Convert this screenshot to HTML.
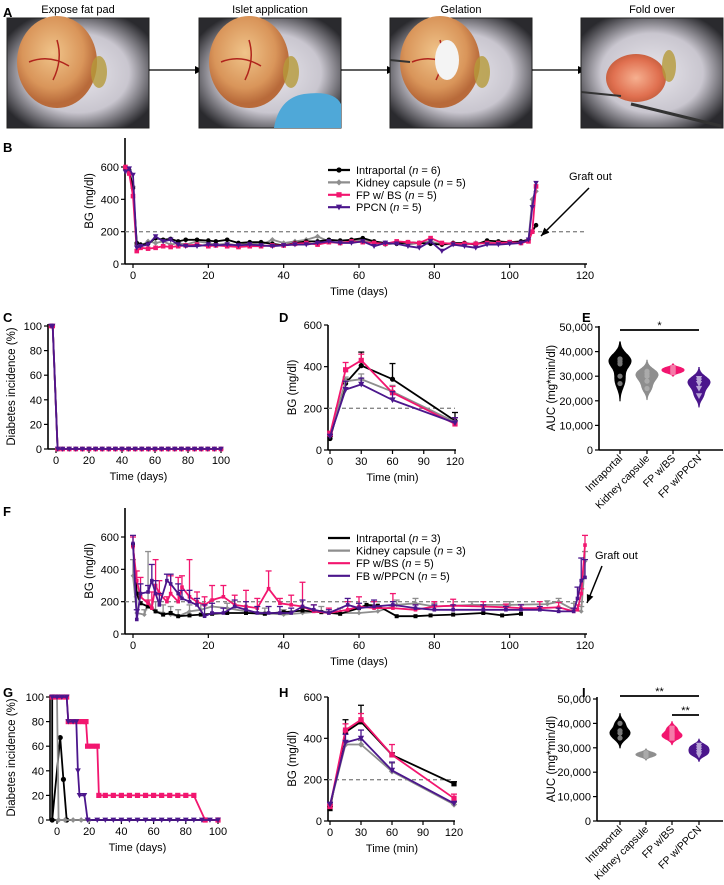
<!DOCTYPE html>
<html><head><meta charset="utf-8">
<style>
html,body{margin:0;padding:0;background:#fff;}
svg{display:block;font-family:"Liberation Sans Narrow","Liberation Sans",sans-serif;}
</style></head>
<body>
<svg id="fig" width="724" height="885" viewBox="0 0 724 885" xmlns="http://www.w3.org/2000/svg">
<defs>
<radialGradient id="fur" cx="50%" cy="50%" r="60%"><stop offset="0" stop-color="#e8e6ec"/><stop offset="0.6" stop-color="#c9c6cf"/><stop offset="1" stop-color="#2a2a2e"/></radialGradient>
<radialGradient id="fat" cx="45%" cy="40%" r="55%"><stop offset="0" stop-color="#f0c48a"/><stop offset="0.7" stop-color="#d9955a"/><stop offset="1" stop-color="#b86a3a"/></radialGradient>
<radialGradient id="fat2" cx="50%" cy="50%" r="55%"><stop offset="0" stop-color="#f6b090"/><stop offset="0.7" stop-color="#e07050"/><stop offset="1" stop-color="#c05a3a"/></radialGradient>
</defs>
</svg>
<script>
// ===== Chart data =====
// Panel B
const daysB = [-2,-1,0,1,2,4,6,8,10,12,14,17,20,22,25,28,31,34,37,40,43,46,49,52,55,58,61,64,67,70,73,76,79,82,85,88,91,94,97,100,103,105,106,107];
const bIntraportal = [590,580,470,130,120,125,160,150,155,140,150,150,145,140,150,130,135,135,125,115,130,140,140,150,145,150,160,140,130,125,135,130,125,120,130,130,120,145,140,135,140,150,200,240];
const bKidney = [580,560,480,120,110,140,130,140,120,130,120,140,130,120,125,115,130,120,150,130,140,150,170,140,130,140,150,130,120,130,120,130,140,120,125,120,130,130,125,130,140,150,400,450];
const bFPBS = [600,560,420,80,100,95,100,110,105,110,115,120,110,115,110,105,110,110,115,115,125,130,120,135,130,140,135,130,125,140,135,130,160,130,125,125,125,130,130,135,130,140,200,480];
const bPPCN = [570,590,550,100,110,120,170,140,150,120,110,110,120,115,120,115,120,115,110,115,120,120,130,140,130,130,140,110,130,125,110,100,140,80,120,110,100,120,120,125,130,150,350,500];
// Panel C
const daysC = [-3,-2,1,4,8,12,16,20,24,28,32,36,40,44,48,52,56,60,64,68,72,76,80,84,88,92,96,100];
const cAll = [100,100,0,0,0,0,0,0,0,0,0,0,0,0,0,0,0,0,0,0,0,0,0,0,0,0,0,0];
const cPPCN = [100,100,0,0,0,0,0,0,0,0,0,0,0,0,0,0,0,0,0,0,0,0,0,0,0,0,0,0];
// Panel D
const ipttTimes = [0,15,30,60,120];
const dIntraportal = [55,320,405,340,140];
const dKidney = [70,330,340,280,135];
const dFPBS = [75,385,430,275,125];
const dPPCN = [65,290,315,240,130];
const dErrIntraportal = [10,20,65,75,40];
const dErrKidney = [10,20,25,30,20];
const dErrFPBS = [15,35,30,30,30];
const dErrPPCN = [10,40,30,40,25];
// Panel E
const aucGroups = ["Intraportal","Kidney capsule","FP w/BS","FP w/PPCN"];
const eIntraportal = [37000,37000,27000,35000,30000,36000];
const eKidney = [30000,28000,32000,25000,31000];
const eFPBS = [32000,33000,32500,31500,33500];
const ePPCN = [28000,22000,27000,29000,25000];
// Panel F
const fDaysIntraportal = [0,1,2,4,6,8,10,12,15,18,21,25,30,35,40,45,50,55,60,62,65,70,75,79,85,93,98,103];
const fIntraportal = [550,250,190,170,140,120,130,110,115,120,125,130,130,125,135,145,135,125,160,180,175,110,110,115,120,130,115,125];
const fDaysKidney = [0,1,3,4,6,8,10,12,15,18,21,25,30,35,40,45,50,55,60,65,70,75,80,90,100,110,113,117,119,120];
const fKidney = [360,130,120,200,140,130,120,110,140,150,170,160,140,130,120,130,140,130,130,140,180,190,170,180,180,185,200,150,140,450];
const fErrKidney = [100,100,30,310,60,50,50,40,40,40,40,30,30,30,30,30,30,30,30,30,30,30,20,20,20,20,20,40,30,60];
const fDaysPink = [0,1,2,4,5,6,7,9,10,12,13,15,17,19,21,24,27,30,33,36,39,42,45,48,52,57,60,64,69,75,80,85,93,99,103,108,113,117,118,119,120];
const fFPBS = [540,330,230,190,160,300,250,200,250,200,290,230,200,180,210,230,180,170,160,280,190,180,170,140,130,150,170,160,160,150,170,175,170,165,160,160,165,140,150,250,550];
const fErrFPBS = [60,60,120,20,100,160,80,30,110,150,70,230,60,50,90,70,60,100,60,110,30,60,150,40,30,50,60,40,90,30,30,40,30,20,20,40,30,20,30,30,60];
const fPPCN = [560,90,250,260,330,250,180,330,310,250,220,200,180,110,130,130,170,150,130,130,130,130,170,150,130,180,160,170,180,160,150,150,150,150,150,150,140,140,220,330,350];
const fErrPPCN = [50,60,60,40,100,80,70,40,60,60,50,70,40,70,60,30,40,50,40,40,40,30,40,30,20,40,30,40,20,20,30,30,30,20,30,20,20,20,70,140,110];
// Panel G
const gDaysIntraportal = [-3,-3,2,4,6,100];
const gIntraportal = [100,0,67,33,0,0];
const gDaysKidney = [-2,0,1,5,10,15,20];
const gKidney = [100,100,0,0,0,0,0];
const gDaysFPBS = [-3,0,3,6,7,10,13,16,18,19,22,25,26,30,35,40,45,50,55,60,65,70,75,80,85,92,100];
const gFPBS = [100,100,100,100,80,80,80,80,80,60,60,60,20,20,20,20,20,20,20,20,20,20,20,20,20,0,0];
const gDaysPPCN = [-3,0,3,6,7,10,12,13,14,17,19,25,30,35,40,45,50,55,60,65,70,75,80,85,90,95,100];
const gPPCN = [100,100,100,100,80,80,80,40,20,20,0,0,0,0,0,0,0,0,0,0,0,0,0,0,0,0,0];
// Panel H
const hIntraportal = [60,430,480,320,180];
const hKidney = [75,370,370,240,80];
const hFPBS = [70,440,490,320,110];
const hPPCN = [80,380,400,245,85];
const hErrIntraportal = [10,60,80,10,10];
const hErrKidney = [10,20,20,40,10];
const hErrFPBS = [10,30,30,50,20];
const hErrPPCN = [10,40,40,40,10];
// Panel I
const iIntraportal = [40000,36000,34000,37000];
const iKidney = [27000,28000,27500,26500];
const iFPBS = [38000,35000,36000,34000];
const iPPCN = [30000,28000,27000,29000,31000];

// ===== Drawing =====
const NS = "http://www.w3.org/2000/svg";
const svg = document.getElementById('fig');
const BLACK="#000", GRAY="#8e8e8e", PINK="#f2166f", PURPLE="#4b168c";
function mk(tag, attrs, parent){
  const e=document.createElementNS(NS,tag);
  for(const k in attrs) e.setAttribute(k,attrs[k]);
  (parent||svg).appendChild(e);
  return e;
}
function txt(x,y,s,size,anchor,parent,extra){
  const t=mk('text',Object.assign({x:x,y:y,'font-size':size,'text-anchor':anchor||'middle','fill':'#000'},extra||{}),parent);
  t.textContent=s;
  return t;
}
function lin(d0,d1,p0,p1){return v=>p0+(v-d0)/(d1-d0)*(p1-p0);}

// Panel A photos
const photos=[["Expose fat pad",7,"fat"],["Islet application",199,"fat"],["Gelation",390,"fat"],["Fold over",581,"fat2"]];
const gA=mk('g',{});


const la=txt(3,17,"A",13,'start',gA,{'font-weight':'bold'});


photos.forEach((p,i)=>{
  const x=p[1];
  const g=mk('g',{},gA);
  
  
  mk('rect',{x:x,y:18,width:142,height:110,fill:'url(#fur)'},g);
  mk('rect',{x:x,y:18,width:142,height:110,fill:'none',stroke:'#222','stroke-width':1},g);
  if(i<3){
    mk('ellipse',{cx:x+50,cy:62,rx:40,ry:46,fill:'url(#fat)'},g);
    mk('path',{d:`M${x+22} ${62} q20 -8 40 4 M${x+50} ${40} q6 20 -4 40`,stroke:'#b0241c','stroke-width':1.5,fill:'none'},g);
    mk('ellipse',{cx:x+92,cy:72,rx:8,ry:16,fill:'#b59a3a',opacity:0.8},g);
  } else {
    mk('ellipse',{cx:x+55,cy:78,rx:30,ry:24,fill:'url(#fat2)'},g);
    mk('ellipse',{cx:x+88,cy:66,rx:7,ry:16,fill:'#b59a3a',opacity:0.8},g);
    mk('line',{x1:x,y1:92,x2:x+40,y2:96,stroke:'#333','stroke-width':2},g);
    mk('line',{x1:x+50,y1:104,x2:x+140,y2:126,stroke:'#333','stroke-width':3},g);
  }
  if(i===1){ mk('path',{d:`M${x+75} ${128} q5 -30 30 -34 q30 -4 37 10 v24 z`,fill:'#4fa8d8'},g); }
  if(i===2){ mk('ellipse',{cx:x+57,cy:60,rx:12,ry:20,fill:'#f4f4f4'},g); mk('line',{x1:x,y1:60,x2:x+20,y2:62,stroke:'#333','stroke-width':2},g);}
  const t=txt(x+71,13,p[0],11,'middle',g);
  
  
  if(i<3){
    const a=mk('g',{},gA);
    
    
    mk('line',{x1:x+142,y1:70,x2:x+188,y2:70,stroke:'#000','stroke-width':1.2},a);
    mk('path',{d:`M${x+196} 70 l-8 -4 v8 z`,fill:'#000'},a);
  }
});

// Generic axes
function axes(c){
  const g=mk('g',{});
  
  
  const lb=txt(c.labelX,c.labelY,c.label,13,'start',g,{'font-weight':'bold'});
  
  
  const X=lin(c.xmin,c.xmax,c.px0,c.px1), Y=lin(c.ymin,c.ymax,c.py0,c.py1);
  const ya=mk('line',{x1:c.axX,y1:c.py0,x2:c.axX,y2:c.yTop,stroke:'#000','stroke-width':1.6},g);
  
  
  const xa=mk('line',{x1:c.axX,y1:c.py0,x2:c.axRight,y2:c.py0,stroke:'#000','stroke-width':1.6},g);
  
  
  c.yticks.forEach((v,i)=>{
    mk('line',{x1:c.axX-4,y1:Y(v),x2:c.axX,y2:Y(v),stroke:'#000','stroke-width':1.2},g);
    const t=txt(c.axX-6,Y(v)+4,c.ytickLabels[i],11,'end',g);
    
    
  });
  if(c.xticks) c.xticks.forEach((v,i)=>{
    mk('line',{x1:X(v),y1:c.py0,x2:X(v),y2:c.py0+4,stroke:'#000','stroke-width':1.2},g);
    const t=txt(X(v),c.py0+15,String(v),11,'middle',g);
    
    
  });
  if(c.xtitle){
    const t=txt((c.px0+c.px1)/2,c.py0+31,c.xtitle,11,'middle',g);
    
    
  }
  const ytx=c.ytitleX, yty=(c.py0+c.yTop)/2;
  const yt=txt(ytx,yty,c.ytitle,11.5,'middle',g,{transform:`rotate(-90 ${ytx} ${yty})`});
  
  
  if(c.dashY!==undefined){
    const d=mk('line',{x1:c.axX,y1:Y(c.dashY),x2:c.dashX2,y2:Y(c.dashY),stroke:'#888','stroke-width':1.3,'stroke-dasharray':'4 3'},g);
    
    
  }
  return {g,X,Y};
}
function marker(g,shape,x,y,color,s){
  s=s||2.6;
  if(shape==='circle') return mk('circle',{cx:x,cy:y,r:s,fill:color},g);
  if(shape==='diamond') return mk('path',{d:`M${x} ${y-s*1.2} L${x+s*1.2} ${y} L${x} ${y+s*1.2} L${x-s*1.2} ${y} Z`,fill:color},g);
  if(shape==='square') return mk('rect',{x:x-s,y:y-s,width:2*s,height:2*s,fill:color},g);
  return mk('path',{d:`M${x-s*1.2} ${y-s} L${x+s*1.2} ${y-s} L${x} ${y+s*1.2} Z`,fill:color},g);
}
function series(ax,name,xs,ys,errs,color,shape,opts){
  opts=opts||{};
  const g=mk('g',{},ax.g);
  
  
  const pts=[];
  xs.forEach((x,i)=>{ if(ys[i]!==null) pts.push([ax.X(x),ax.Y(ys[i]),i]); });
  if(errs) pts.forEach(p=>{
    const e=errs[p[2]]; if(!e) return;
    const yt=ax.Y(ys[p[2]]+e);
    mk('line',{x1:p[0],y1:p[1],x2:p[0],y2:yt,stroke:color,'stroke-width':1.3},g);
    mk('line',{x1:p[0]-3,y1:yt,x2:p[0]+3,y2:yt,stroke:color,'stroke-width':1.3},g);
  });
  const pl=mk('polyline',{points:pts.map(p=>p[0].toFixed(1)+','+p[1].toFixed(1)).join(' '),fill:'none',stroke:color,'stroke-width':opts.w||1.8,'stroke-linejoin':'round'},g);
  
  
  if(!opts.noMarkers) pts.forEach(p=>{
    const m=marker(g,shape,p[0],p[1],color,opts.ms);
    
    
  });
}
function legend(parent,x,y0,dy,items){
  const g=mk('g',{},parent);
  
  
  items.forEach((it,i)=>{
    const y=y0+i*dy;
    const e=mk('g',{},g);
    
    
    mk('line',{x1:x,y1:y,x2:x+22,y2:y,stroke:it[1],'stroke-width':2.2},e);
    if(it[2]) marker(e,it[2],x+11,y,it[1],2.6);
    const t=mk('text',{x:x+28,y:y+4,'font-size':11},e);
    t.innerHTML=it[0];
  });
}
function grafOut(parent,tx,ty,x1,y1,x2,y2){
  const g=mk('g',{},parent);
  
  
  txt(tx,ty,"Graft out",11,'start',g);
  mk('line',{x1:x1,y1:y1,x2:x2,y2:y2,stroke:'#000','stroke-width':1.5},g);
  const ang=Math.atan2(y2-y1,x2-x1), L=9;
  const a1=ang+Math.PI-0.4, a2=ang+Math.PI+0.4;
  mk('path',{d:`M${x2} ${y2} L${x2+L*Math.cos(a1)} ${y2+L*Math.sin(a1)} L${x2+L*Math.cos(a2)} ${y2+L*Math.sin(a2)} Z`,fill:'#000'},g);
}

// Panel B
const B=axes({name:'panel-b-chart',label:'B',labelX:3,labelY:152,xmin:0,xmax:120,px0:133,px1:585,ymin:0,ymax:600,py0:264,py1:167,axX:125,axRight:587,yTop:138,
  yticks:[0,200,400,600],ytickLabels:["0","200","400","600"],xticks:[0,20,40,60,80,100,120],xtitle:"Time (days)",ytitle:"BG (mg/dl)",ytitleX:93,dashY:200,dashX2:585});
series(B,'b-kidney-capsule',daysB,bKidney,null,GRAY,'diamond',{ms:2.3});
series(B,'b-intraportal',daysB,bIntraportal,null,BLACK,'circle',{ms:2.3});
series(B,'b-fp-bs',daysB,bFPBS,null,PINK,'square',{ms:2.3});
series(B,'b-ppcn',daysB,bPPCN,null,PURPLE,'triangle',{ms:2.3});
legend(B.g,328,170,12.4,[["Intraportal (<tspan font-style='italic'>n</tspan> = 6)",BLACK,'circle'],["Kidney capsule (<tspan font-style='italic'>n</tspan> = 5)",GRAY,'diamond'],["FP w/ BS (<tspan font-style='italic'>n</tspan> = 5)",PINK,'square'],["PPCN (<tspan font-style='italic'>n</tspan> = 5)",PURPLE,'triangle']]);
grafOut(B.g,569,180,589,188,541,236);

// Panel C
const C=axes({name:'panel-c-chart',label:'C',labelX:3,labelY:322,xmin:0,xmax:100,px0:56,px1:221,ymin:0,ymax:100,py0:449,py1:326,axX:48,axRight:222,yTop:324,
  yticks:[0,20,40,60,80,100],ytickLabels:["0","20","40","60","80","100"],xticks:[0,20,40,60,80,100],xtitle:"Time (days)",ytitle:"Diabetes incidence (%)",ytitleX:15});
series(C,'c-intraportal',daysC,cAll,null,BLACK,'circle',{ms:2.3});
series(C,'c-kidney',daysC,cAll,null,GRAY,'diamond',{ms:2.3});
series(C,'c-fp-bs',daysC,cAll,null,PINK,'square',{ms:2.3});
series(C,'c-ppcn',daysC,cPPCN,null,PURPLE,'triangle',{ms:2.3});

// Panel D
const D=axes({name:'panel-d-chart',label:'D',labelX:279,labelY:322,xmin:0,xmax:120,px0:330,px1:455,ymin:0,ymax:600,py0:450,py1:325,axX:328,axRight:456,yTop:325,
  yticks:[0,200,400,600],ytickLabels:["0","200","400","600"],xticks:[0,30,60,90,120],xtitle:"Time (min)",ytitle:"BG (mg/dl)",ytitleX:296,dashY:200,dashX2:455});
series(D,'d-intraportal',ipttTimes,dIntraportal,dErrIntraportal,BLACK,'circle');
series(D,'d-kidney',ipttTimes,dKidney,dErrKidney,GRAY,'diamond');
series(D,'d-fp-bs',ipttTimes,dFPBS,dErrFPBS,PINK,'square');
series(D,'d-ppcn',ipttTimes,dPPCN,dErrPPCN,PURPLE,'triangle');

// Violin panels
function violinPanel(c,groups,colors,shapes,cats){
  const A=axes(c);
  const X=i=>c.catX[i];
  cats.forEach((s,i)=>{
    mk('line',{x1:X(i),y1:c.py0,x2:X(i),y2:c.py0+4,stroke:'#000','stroke-width':1.2},A.g);
    const tx=X(i)+3, ty=c.py0+9;
    const t=txt(tx,ty,s,10.5,'end',A.g,{transform:`rotate(-45 ${tx} ${ty})`});
    
    
  });
  groups.forEach((vals,gi)=>{
    const g=mk('g',{},A.g);
    
    
    const mn=Math.min(...vals), mx=Math.max(...vals);
    const sd=Math.sqrt(vals.reduce((a,v)=>a+(v-vals.reduce((p,q)=>p+q,0)/vals.length)**2,0)/vals.length);
    const h=Math.max(sd*0.7,600);
    const lo=mn-2.6*h, hi=mx+2.6*h;
    const N=60, dens=[];
    for(let k=0;k<=N;k++){const y=lo+(hi-lo)*k/N; let s=0; vals.forEach(v=>s+=Math.exp(-0.5*((y-v)/h)**2)); dens.push([y,s]);}
    const dm=Math.max(...dens.map(d=>d[1]));
    const W=c.vw;
    let d='M'+X(gi)+' '+A.Y(lo);
    dens.forEach(p=>d+=' L'+(X(gi)+W*p[1]/dm).toFixed(1)+' '+A.Y(p[0]).toFixed(1));
    for(let k=dens.length-1;k>=0;k--){const p=dens[k]; d+=' L'+(X(gi)-W*p[1]/dm).toFixed(1)+' '+A.Y(p[0]).toFixed(1);}
    mk('path',{d:d+'Z',fill:colors[gi],stroke:colors[gi],'stroke-width':1},g);
    vals.forEach(v=>{
      const m=marker(g,shapes[gi],X(gi),A.Y(v),shapes[gi]==='circle'&&gi===0?'#000':'#b9a6d6',2.6);
      if(gi!==3) m.setAttribute('fill',gi===0?'#777':(gi===1?'#aaa':'#f57aa8'));
      
      
    });
  });
  c.sig.forEach(s=>{
    const b=mk('g',{},A.g);
    
    
    mk('line',{x1:X(s[0]),y1:s[2],x2:X(s[1]),y2:s[2],stroke:'#000','stroke-width':1.8},b);
    txt((X(s[0])+X(s[1]))/2,s[2]-1,s[3],11,'middle',b);
  });
  return A;
}
const cats=aucGroups;
violinPanel({name:'panel-e-chart',label:'E',labelX:582,labelY:322,xmin:0,xmax:1,px0:600,px1:720,ymin:0,ymax:50000,py0:450,py1:327,axX:599,axRight:723,yTop:326,
  yticks:[0,10000,20000,30000,40000,50000],ytickLabels:["0","10,000","20,000","30,000","40,000","50,000"],ytitle:"AUC (mg*min/dl)",ytitleX:555,catX:[620,647,673,699],vw:11,
  sig:[[0,3,330,'*']]},[eIntraportal,eKidney,eFPBS,ePPCN],[BLACK,GRAY,PINK,PURPLE],['circle','circle','square','triangle'],cats);

// Panel F
const F=axes({name:'panel-f-chart',label:'F',labelX:3,labelY:516,xmin:0,xmax:120,px0:133,px1:585,ymin:0,ymax:600,py0:634,py1:537,axX:125,axRight:587,yTop:508,
  yticks:[0,200,400,600],ytickLabels:["0","200","400","600"],xticks:[0,20,40,60,80,100,120],xtitle:"Time (days)",ytitle:"BG (mg/dl)",ytitleX:93,dashY:200,dashX2:585});
series(F,'f-kidney',fDaysKidney,fKidney,fErrKidney,GRAY,'diamond',{ms:2});
series(F,'f-intraportal',fDaysIntraportal,fIntraportal,null,BLACK,'square',{ms:2});
series(F,'f-fp-bs',fDaysPink,fFPBS,fErrFPBS,PINK,'square',{ms:1.8});
series(F,'f-ppcn',fDaysPink,fPPCN,fErrPPCN,PURPLE,'square',{ms:1.8});
legend(F.g,328,538,12.6,[["Intraportal (<tspan font-style='italic'>n</tspan> = 3)",BLACK],["Kidney capsule (<tspan font-style='italic'>n</tspan> = 3)",GRAY],["FP w/BS (<tspan font-style='italic'>n</tspan> = 5)",PINK],["FB w/PPCN (<tspan font-style='italic'>n</tspan> = 5)",PURPLE]]);
grafOut(F.g,595,559,602,566,587,603);

// Panel G
const G=axes({name:'panel-g-chart',label:'G',labelX:3,labelY:697,xmin:0,xmax:100,px0:57,px1:218,ymin:0,ymax:100,py0:820,py1:697,axX:50,axRight:220,yTop:695,
  yticks:[0,20,40,60,80,100],ytickLabels:["0","20","40","60","80","100"],xticks:[0,20,40,60,80,100],xtitle:"Time (days)",ytitle:"Diabetes incidence (%)",ytitleX:15});
series(G,'g-intraportal',gDaysIntraportal,gIntraportal,null,BLACK,'circle',{ms:2.6});
series(G,'g-kidney',gDaysKidney,gKidney,null,GRAY,'diamond',{ms:2.4});
series(G,'g-fp-bs',gDaysFPBS,gFPBS,null,PINK,'square',{ms:2.6});
series(G,'g-ppcn',gDaysPPCN,gPPCN,null,PURPLE,'triangle',{ms:2.4});

// Panel H
const H=axes({name:'panel-h-chart',label:'H',labelX:279,labelY:697,xmin:0,xmax:120,px0:330,px1:454,ymin:0,ymax:600,py0:821,py1:697,axX:328,axRight:455,yTop:697,
  yticks:[0,200,400,600],ytickLabels:["0","200","400","600"],xticks:[0,30,60,90,120],xtitle:"Time (min)",ytitle:"BG (mg/dl)",ytitleX:296,dashY:200,dashX2:454});
series(H,'h-intraportal',ipttTimes,hIntraportal,hErrIntraportal,BLACK,'square');
series(H,'h-kidney',ipttTimes,hKidney,hErrKidney,GRAY,'diamond');
series(H,'h-fp-bs',ipttTimes,hFPBS,hErrFPBS,PINK,'square');
series(H,'h-ppcn',ipttTimes,hPPCN,hErrPPCN,PURPLE,'triangle');

// Panel I
violinPanel({name:'panel-i-chart',label:'I',labelX:582,labelY:697,xmin:0,xmax:1,px0:600,px1:720,ymin:0,ymax:50000,py0:821,py1:699,axX:597,axRight:723,yTop:697,
  yticks:[0,10000,20000,30000,40000,50000],ytickLabels:["0","10,000","20,000","30,000","40,000","50,000"],ytitle:"AUC (mg*min/dl)",ytitleX:555,catX:[620,646,672,699],vw:10,
  sig:[[0,3,696,'**'],[2,3,715,'**']]},[iIntraportal,iKidney,iFPBS,iPPCN],[BLACK,GRAY,PINK,PURPLE],['circle','circle','square','triangle'],cats);
</script>
</body></html>
